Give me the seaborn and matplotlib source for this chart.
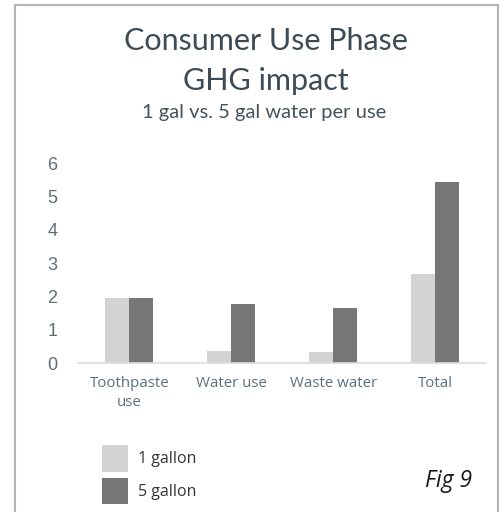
import matplotlib
matplotlib.use("Agg")
import matplotlib.pyplot as plt
from matplotlib.patches import Rectangle
import pandas as pd
import seaborn as sns

# GHG impact of the consumer use phase, per category
categories = ["Toothpaste\nuse", "Water use", "Waste water", "Total"]
one_gallon = [1.97, 0.37, 0.35, 2.68]
five_gallon = [1.97, 1.78, 1.67, 5.45]
series_names = ["1 gallon", "5 gallon"]
y_ticks = [0, 1, 2, 3, 4, 5, 6]

df = pd.DataFrame({
    "category": categories * 2,
    "impact": one_gallon + five_gallon,
    "scenario": [series_names[0]] * len(categories) + [series_names[1]] * len(categories),
})

sns.set_style("white")
plt.rcParams["font.family"] = ["Open Sans", "DejaVu Sans"]

fig = plt.figure(figsize=(5.04, 5.12), dpi=100)
ax = fig.add_axes([78.3 / 504, 1 - 363.3 / 512, 407.7 / 504, 200 / 512])

palette = {"1 gallon": "#d3d3d3", "5 gallon": "#767676"}
sns.barplot(data=df, x="category", y="impact", hue="scenario",
            hue_order=series_names, order=categories, palette=palette,
            width=0.47, dodge=True, linewidth=0, saturation=1, ax=ax)

ax.set_xlim(-0.5, 3.5)
ax.set_ylim(0, 6)
ax.set_yticks(y_ticks)
ax.set_yticklabels([str(t) for t in y_ticks], family="Liberation Sans",
                   fontsize=13, color="#626c75")
ax.tick_params(axis="y", length=0, pad=15)
ax.tick_params(axis="x", length=0, pad=9, labelsize=10.8, labelcolor="#5d6e7e")
for lbl in ax.get_xticklabels():
    lbl.set_linespacing(1.35)
ax.set_xlabel("")
ax.set_ylabel("")
for side in ["top", "right", "left"]:
    ax.spines[side].set_visible(False)
ax.spines["bottom"].set_color("#dcdcdc")
ax.spines["bottom"].set_linewidth(1.2)

# legend below the chart
handles, labels = ax.get_legend_handles_labels()
ax.legend_.remove()
fig.legend(handles, labels, loc="upper left",
           bbox_to_anchor=(102 / 504, 1 - 445 / 512),
           frameon=False, fontsize=11.5, borderpad=0, borderaxespad=0,
           handlelength=1.63, handleheight=2.2, handletextpad=0.6,
           labelspacing=0.36, labelcolor="#333333")

# titles
title_color = "#3d4b56"
fig.text(266 / 504, 1 - 50 / 512, "Consumer Use Phase", ha="center",
         va="baseline", fontsize=22, family="Lato", color=title_color)
fig.text(266 / 504, 1 - 90 / 512, "GHG impact", ha="center",
         va="baseline", fontsize=22, family="Lato", color=title_color)
fig.text(264 / 504, 1 - 118 / 512, "1 gal vs. 5 gal water per use",
         ha="center", va="baseline", fontsize=14.5, family="Lato",
         color="#45525c")

fig.text(425 / 504, 1 - 487 / 512, "Fig 9", ha="left", va="baseline",
         fontsize=16.5, style="italic", color="#1a1a1a")

# panel frame
fig.add_artist(Rectangle((15 / 504, -0.05), 483 / 504, 1 - 5 / 512 + 0.05,
                         transform=fig.transFigure, fill=False,
                         edgecolor="#b4b4b4", linewidth=1.5))

fig.savefig("out.png", dpi=100)
